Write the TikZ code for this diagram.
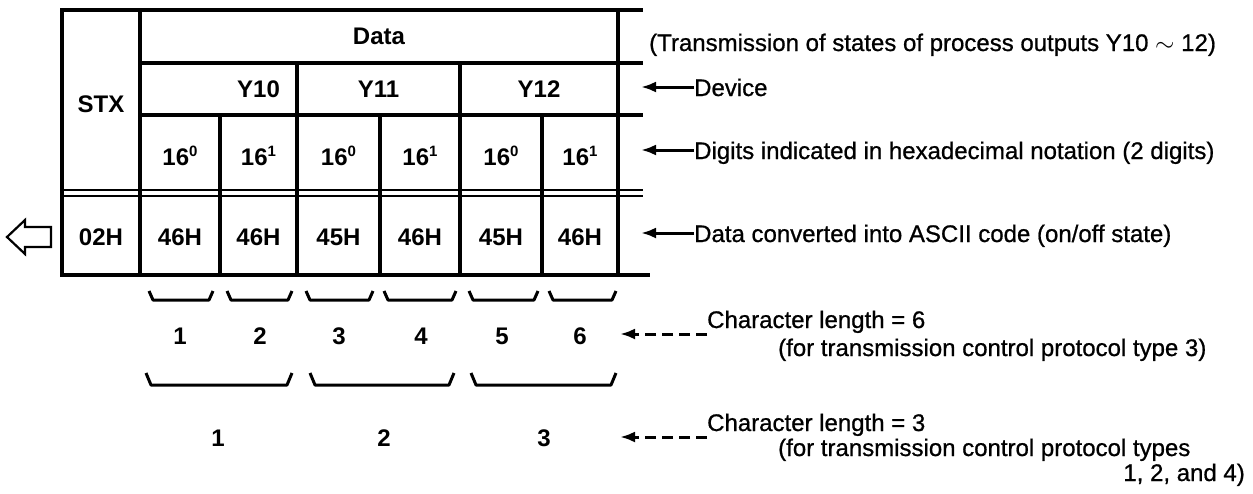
\documentclass[tikz,border=0pt]{standalone}
\usepackage{fontspec}
\setmainfont{Liberation Sans}
\newfontfamily\labfam{Liberation Sans}[FakeBold=0.8]
\usetikzlibrary{arrows.meta}
\newcommand\tabfont{\fontsize{24}{28}\selectfont\bfseries}
\newcommand\labfont{\fontsize{24}{28}\selectfont\labfam}
\newcommand\supdig[1]{\raisebox{8.5pt}{\fontsize{15}{15}\selectfont\bfseries #1}}
\begin{document}
\begin{tikzpicture}[x=1pt,y=-1pt,
  rule/.style={line width=3.5pt, line cap=rect},
  dbl/.style={line width=2.5pt},
  cell/.style={font=\tabfont, inner sep=0pt},
  lab/.style={font=\labfont, inner sep=0pt, anchor=base west},
  lead/.style={line width=3pt, -{Latex[length=15pt,width=11pt]}},
  dlead/.style={lead, dash pattern=on 11pt off 6pt},
  brace/.style={line width=3pt, line join=round},
  hollow/.style={line width=2.2pt, line join=miter, fill=white}]
\useasboundingbox (0,0) rectangle (1253,493);

% frame of the message table
\draw[rule] (62,10) -- (641,10);
\draw[rule] (140,63) -- (641,63);
\draw[rule] (140,115) -- (641,115);
\draw[dbl] (62,190) -- (643,190);
\draw[dbl] (62,196) -- (643,196);
\draw[rule] (62,275) -- (648,275);
\draw[rule] (62,10) -- (62,275);
\draw[rule] (140,10) -- (140,275);
\draw[rule] (618,10) -- (618,275);
\draw[rule] (297,63) -- (297,275);
\draw[rule] (460,63) -- (460,275);
\draw[rule] (220,115) -- (220,275);
\draw[rule] (380,115) -- (380,275);
\draw[rule] (542,115) -- (542,275);

% cell texts
\node[cell] (stx) at (101,104) {STX};
\node[cell] (data) at (379,36) {Data};
\node[cell] (y10) at (258.5,89) {Y10};
\node[cell] (y11) at (378.5,89) {Y11};
\node[cell] (y12) at (539,89) {Y12};
\node[cell] (d1) at (180,156) {16\supdig{0}};
\node[cell] (d2) at (258.5,156) {16\supdig{1}};
\node[cell] (d3) at (338.5,156) {16\supdig{0}};
\node[cell] (d4) at (420,156) {16\supdig{1}};
\node[cell] (d5) at (501,156) {16\supdig{0}};
\node[cell] (d6) at (580,156) {16\supdig{1}};
\node[cell] (h0) at (101,237) {02H};
\node[cell] (h1) at (180,237) {46H};
\node[cell] (h2) at (258.5,237) {46H};
\node[cell] (h3) at (338.5,237) {45H};
\node[cell] (h4) at (420,237) {46H};
\node[cell] (h5) at (501,237) {45H};
\node[cell] (h6) at (580,237) {46H};

% transmission direction
\draw[hollow] (51,227) -- (25,227) -- (25,220) -- (7,237) -- (25,254) -- (25,247) -- (51,247) -- cycle;

% one character per byte
\foreach \a/\b in {149/213, 227/292, 306/373, 384/456, 469/538, 549/616}
  \draw[brace] (\a,291) -- (\a+4,300) -- (\b-4,300) -- (\b,291);
\node[cell] (c1) at (180,336) {1};
\node[cell] (c2) at (260,336) {2};
\node[cell] (c3) at (339,336) {3};
\node[cell] (c4) at (421,336) {4};
\node[cell] (c5) at (502,336) {5};
\node[cell] (c6) at (580,336) {6};

% one character per device
\foreach \a/\b in {146/292, 310/454, 471/616}
  \draw[brace] (\a,373) -- (\a+5,385) -- (\b-5,385) -- (\b,373);
\node[cell] (e1) at (218,438) {1};
\node[cell] (e2) at (384,438) {2};
\node[cell] (e3) at (544,438) {3};

% explanations
\node[lab] (trans) at (649,51) {(Transmission of states of process outputs Y10 $\sim$ 12)};
\node[lab] (dev) at (694,96) {Device};
\node[lab] (dig) at (694,159) {Digits indicated in hexadecimal notation (2 digits)};
\node[lab] (conv) at (694,242) {Data converted into ASCII code (on/off state)};
\node[lab] (cl6) at (707,328) {Character length = 6};
\node[lab] (for3) at (778,356) {(for transmission control protocol type 3)};
\node[lab] (cl3) at (707,431) {Character length = 3};
\node[lab] (for124) at (778,456) {(for transmission control protocol types};
\node[lab, anchor=base east] (and4) at (1245,481) {1, 2, and 4)};

\coordinate (devtip) at (641,87);
\coordinate (digtip) at (641,150);
\coordinate (convtip) at (641,233);
\coordinate (six) at (620,334);
\coordinate (three) at (620,437);
\draw[lead] (dev.west |- devtip) -- (devtip);
\draw[lead] (dig.west |- digtip) -- (digtip);
\draw[lead] (conv.west |- convtip) -- (convtip);
\draw[dlead] (cl6.west |- six) -- (six);
\draw[dlead] (cl3.west |- three) -- (three);
\end{tikzpicture}
\end{document}
